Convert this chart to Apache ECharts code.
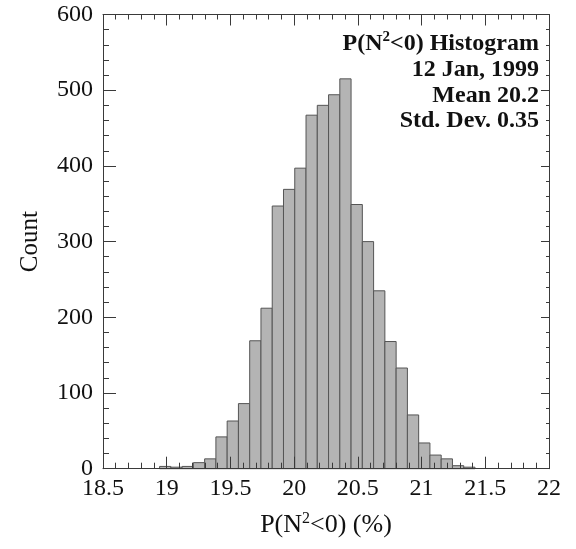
<!DOCTYPE html>
<html>
<head>
<meta charset="utf-8">
<title>P(N²<0) Histogram</title>
<script src="https://cdn.jsdelivr.net/npm/echarts@6/dist/echarts.min.js"></script>
<style>
  html, body { margin: 0; padding: 0; background: #fff; }
  #chart { width: 576px; height: 549px; }
</style>
</head>
<body>
<div id="chart"></div>
<script>
// Histogram bins: first left edge and common bin width (in %)
const binStart = 18.944;
const binWidth = 0.0884;
// Counts per bin, left to right
const counts = [3, 2, 3, 8, 13, 42, 63, 86, 169, 212, 347, 369, 397, 467,
                480, 494, 515, 349, 300, 235, 168, 133, 71, 34, 18, 13, 4, 2];
// Axis ticks
const xTicks = [18.5, 19, 19.5, 20, 20.5, 21, 21.5, 22];
const yTicks = [0, 100, 200, 300, 400, 500, 600];
// Annotation lines
const noteLines = ['12 Jan, 1999', 'Mean 20.2', 'Std. Dev. 0.35'];

const serif = '"Liberation Serif", "Times New Roman", serif';
const ink = '#111111';
const frame = '#3a3a3a';

const bins = counts.map((c, i) => {
  const lo = binStart + i * binWidth;
  return [lo, lo + binWidth, c];
});

const chart = echarts.init(document.getElementById('chart'), null, { renderer: 'canvas' });

const xCommon = {
  type: 'value',
  min: xTicks[0],
  max: xTicks[xTicks.length - 1],
  interval: 0.5,
  splitLine: { show: false },
  axisLine: { show: true, onZero: false, lineStyle: { color: frame, width: 1 } },
  z: 5
};
const yCommon = {
  type: 'value',
  min: yTicks[0],
  max: yTicks[yTicks.length - 1],
  interval: 100,
  splitLine: { show: false },
  axisLine: { show: true, onZero: false, lineStyle: { color: frame, width: 1 } },
  z: 5
};

chart.setOption({
  animation: false,
  backgroundColor: '#fff',
  grid: { left: 103, right: 27, top: 14.5, bottom: 80.3 },
  xAxis: [
    Object.assign({}, xCommon, {
      position: 'bottom',
      axisTick: { show: true, inside: true, length: 12, lineStyle: { color: frame } },
      minorTick: { show: true, splitNumber: 5, length: 6, lineStyle: { color: frame } },
      axisLabel: {
        show: true, margin: 8, color: ink, fontFamily: serif, fontSize: 24,
        formatter: v => String(v)
      },
      name: 'P(N{s|2}<0) (%)',
      nameLocation: 'middle',
      nameGap: 42,
      nameTextStyle: {
        color: ink, fontFamily: serif, fontSize: 26,
        rich: { s: { fontFamily: serif, fontSize: 16, color: ink, verticalAlign: 'top', padding: [0, 0, 12, 0] } }
      }
    }),
    Object.assign({}, xCommon, {
      position: 'top',
      axisTick: { show: true, inside: true, length: 11, lineStyle: { color: frame } },
      minorTick: { show: true, splitNumber: 5, length: 5, lineStyle: { color: frame } },
      axisLabel: { show: false }
    })
  ],
  yAxis: [
    Object.assign({}, yCommon, {
      position: 'left',
      axisTick: { show: true, inside: true, length: 13, lineStyle: { color: frame } },
      minorTick: { show: true, splitNumber: 5, length: 6, lineStyle: { color: frame } },
      axisLabel: { show: true, margin: 10, color: ink, fontFamily: serif, fontSize: 24 },
      name: 'Count',
      nameLocation: 'middle',
      nameGap: 60,
      nameTextStyle: { color: ink, fontFamily: serif, fontSize: 25 }
    }),
    Object.assign({}, yCommon, {
      position: 'right',
      axisTick: { show: true, inside: true, length: 8, lineStyle: { color: frame } },
      minorTick: { show: true, splitNumber: 5, length: 3, lineStyle: { color: frame } },
      axisLabel: { show: false }
    })
  ],
  graphic: [
    {
      type: 'text', x: 539, y: 57,
      style: {
        text: '{a|P(N}{s|2}{a|<0) Histogram}',
        align: 'right', verticalAlign: 'bottom',
        rich: {
          a: { fontFamily: serif, fontWeight: 'bold', fontSize: 24, fill: ink, color: ink },
          s: { fontFamily: serif, fontWeight: 'bold', fontSize: 15, fill: ink, color: ink, verticalAlign: 'top', padding: [0, 0, 12, 0] }
        }
      },
      z: 10
    }
  ].concat(noteLines.map((t, i) => ({
    type: 'text', x: 539, y: 82 + i * 25.5,
    style: {
      text: t, align: 'right', verticalAlign: 'bottom',
      font: 'bold 24px ' + serif, fill: ink
    },
    z: 10
  }))),
  series: [{
    type: 'custom',
    xAxisIndex: 0,
    yAxisIndex: 0,
    data: bins,
    encode: { x: [0, 1], y: 2 },
    renderItem: function (params, api) {
      const lo = api.value(0), hi = api.value(1), c = api.value(2);
      const top = api.coord([lo, c]);
      const base = api.coord([hi, 0]);
      return {
        type: 'rect',
        shape: { x: top[0], y: top[1], width: base[0] - top[0], height: base[1] - top[1] },
        style: { fill: '#b4b4b4', stroke: '#555555', lineWidth: 1 }
      };
    },
    z: 2
  }]
});
</script>
</body>
</html>
